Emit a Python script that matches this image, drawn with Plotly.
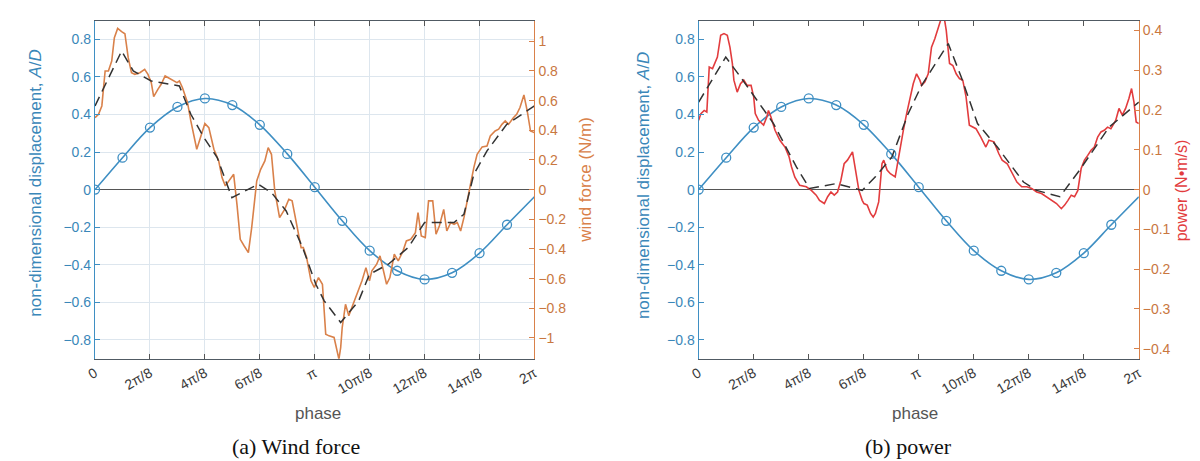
import numpy as np
import plotly.graph_objects as go

PI = np.pi

# ---------------- data ----------------
# phase values are given in units of pi
disp_phase = [0, 1/8, 2/8, 3/8, 4/8, 5/8, 6/8, 7/8, 1, 9/8, 10/8, 11/8, 12/8, 13/8, 14/8, 15/8]
disp_value = [0.0, 0.17, 0.33, 0.44, 0.485, 0.45, 0.345, 0.19, 0.013, -0.166, -0.325,
              -0.432, -0.478, -0.443, -0.338, -0.187]
disp_end_phase = 2.0
disp_end_value = -0.038

wind_phase = [0.000, 0.016, 0.031, 0.046, 0.061, 0.076, 0.088, 0.103, 0.121, 0.136, 0.151, 0.166,
              0.181, 0.204, 0.226, 0.241, 0.256, 0.267, 0.286, 0.301, 0.319, 0.339, 0.354, 0.373,
              0.384, 0.398, 0.421, 0.436, 0.463, 0.481, 0.500, 0.518, 0.541, 0.563, 0.578, 0.593,
              0.613, 0.631, 0.646, 0.661, 0.679, 0.698, 0.713, 0.736, 0.754, 0.773, 0.788, 0.803,
              0.818, 0.840, 0.863, 0.882, 0.897, 0.908, 0.923, 0.938, 0.948, 0.963, 0.983, 0.998,
              1.017, 1.035, 1.050, 1.065, 1.088, 1.103, 1.110, 1.118, 1.125, 1.140, 1.155, 1.169,
              1.193, 1.215, 1.233, 1.249, 1.260, 1.282, 1.297, 1.312, 1.327, 1.342, 1.362, 1.380,
              1.402, 1.417, 1.437, 1.458, 1.470, 1.485, 1.503, 1.518, 1.537, 1.552, 1.567, 1.587,
              1.601, 1.619, 1.634, 1.649, 1.664, 1.679, 1.694, 1.709, 1.724, 1.739, 1.762, 1.784,
              1.799, 1.821, 1.837, 1.852, 1.867, 1.882, 1.904, 1.919, 1.934, 1.952, 1.967, 1.982,
              1.999]
wind_force = [0.485, 0.508, 0.564, 0.800, 0.800, 0.867, 1.024, 1.087, 1.065, 1.051, 0.889, 0.788,
              0.777, 0.788, 0.811, 0.777, 0.721, 0.627, 0.676, 0.710, 0.766, 0.750, 0.737, 0.721,
              0.732, 0.687, 0.586, 0.463, 0.272, 0.350, 0.445, 0.418, 0.272, 0.193, 0.081, 0.025,
              0.070, 0.103, -0.099, -0.335, -0.380, -0.425, -0.256, 0.058, 0.137, 0.193, 0.283, 0.238,
              -0.009, -0.189, -0.133, -0.065, -0.076, -0.166, -0.279, -0.391, -0.391, -0.458, -0.615, -0.660,
              -0.593, -0.638, -0.975, -0.986, -0.997, -1.110, -1.143, -1.065, -0.930, -0.773, -0.851, -0.795,
              -0.705, -0.615, -0.526, -0.615, -0.548, -0.503, -0.447, -0.548, -0.638, -0.593, -0.436, -0.481,
              -0.413, -0.346, -0.335, -0.290, -0.155, -0.312, -0.323, -0.076, -0.076, -0.301, -0.245, -0.133,
              -0.279, -0.222, -0.234, -0.222, -0.279, -0.189, -0.088, 0.036, 0.148, 0.238, 0.288, 0.294,
              0.362, 0.395, 0.407, 0.440, 0.463, 0.440, 0.485, 0.508, 0.553, 0.638, 0.530, 0.395,
              0.384]

wind_avg_phase = [0.0, 0.121, 0.174, 0.256, 0.384, 0.436, 0.496, 0.556, 0.623, 0.743, 0.803, 0.870,
                  0.945, 1.005, 1.043, 1.118, 1.200, 1.249, 1.335, 1.425, 1.500, 1.634, 1.679, 1.724,
                  1.784, 1.874, 2.0]
wind_avg_force = [0.564, 0.934, 0.800, 0.732, 0.699, 0.508, 0.350, 0.216, -0.054, 0.036, -0.020, -0.144,
                  -0.391, -0.638, -0.750, -0.896, -0.750, -0.571, -0.503, -0.391, -0.222, -0.222, -0.166, 0.103,
                  0.261, 0.440, 0.564]

power_phase = [0.000, 0.010, 0.025, 0.037, 0.048, 0.063, 0.085, 0.100, 0.115, 0.130, 0.142, 0.153,
               0.160, 0.175, 0.190, 0.205, 0.220, 0.238, 0.250, 0.257, 0.272, 0.295, 0.310, 0.317,
               0.328, 0.347, 0.369, 0.392, 0.411, 0.422, 0.437, 0.459, 0.489, 0.512, 0.534, 0.549,
               0.571, 0.586, 0.601, 0.616, 0.631, 0.646, 0.661, 0.676, 0.699, 0.711, 0.728, 0.743,
               0.751, 0.766, 0.781, 0.793, 0.803, 0.818, 0.833, 0.841, 0.856, 0.871, 0.893, 0.901,
               0.915, 0.930, 0.945, 0.960, 0.975, 0.990, 1.005, 1.013, 1.028, 1.043, 1.058, 1.073,
               1.088, 1.102, 1.114, 1.125, 1.140, 1.155, 1.170, 1.185, 1.200, 1.215, 1.230, 1.245,
               1.260, 1.282, 1.305, 1.319, 1.342, 1.364, 1.379, 1.402, 1.424, 1.446, 1.468, 1.491,
               1.513, 1.536, 1.558, 1.581, 1.603, 1.626, 1.648, 1.663, 1.678, 1.693, 1.708, 1.723,
               1.738, 1.753, 1.768, 1.783, 1.798, 1.813, 1.828, 1.843, 1.858, 1.873, 1.895, 1.910,
               1.925, 1.940, 1.955, 1.967, 1.978, 1.988, 2.000]
power_value = [0.174, 0.191, 0.199, 0.195, 0.308, 0.304, 0.333, 0.388, 0.392, 0.388, 0.358, 0.317,
               0.275, 0.245, 0.266, 0.275, 0.262, 0.262, 0.233, 0.191, 0.174, 0.162, 0.183, 0.199,
               0.183, 0.149, 0.124, 0.107, 0.082, 0.057, 0.031, 0.011, 0.007, -0.002, -0.014, -0.027,
               -0.035, -0.018, -0.006, -0.014, -0.006, 0.023, 0.065, 0.074, 0.095, 0.057, -0.002, -0.027,
               -0.035, -0.039, -0.060, -0.069, -0.060, -0.031, 0.065, 0.074, 0.049, 0.040, 0.032, 0.057,
               0.107, 0.149, 0.191, 0.233, 0.266, 0.291, 0.275, 0.262, 0.271, 0.291, 0.358, 0.379,
               0.409, 0.430, 0.438, 0.400, 0.317, 0.312, 0.291, 0.279, 0.275, 0.233, 0.162, 0.157,
               0.153, 0.132, 0.107, 0.124, 0.120, 0.090, 0.074, 0.065, 0.040, 0.019, 0.007, 0.007,
               0.003, -0.006, -0.010, -0.018, -0.027, -0.035, -0.048, -0.039, -0.027, -0.014, -0.018, -0.002,
               0.053, 0.074, 0.086, 0.099, 0.107, 0.132, 0.145, 0.149, 0.157, 0.153, 0.174, 0.204,
               0.187, 0.204, 0.229, 0.254, 0.220, 0.170, 0.166]

power_avg_phase = [0.0, 0.123, 0.190, 0.340, 0.444, 0.504, 0.624, 0.743, 0.803, 0.878, 0.952, 1.013,
                   1.134, 1.193, 1.267, 1.357, 1.476, 1.536, 1.641, 1.731, 1.865, 2.0]
power_avg_value = [0.220, 0.333, 0.283, 0.166, 0.057, 0.003, 0.015, -0.002, 0.032, 0.082, 0.191, 0.262,
                   0.367, 0.283, 0.166, 0.107, 0.019, -0.002, -0.018, 0.049, 0.157, 0.220]

tick_phase = [0, 0.25, 0.5, 0.75, 1, 1.25, 1.5, 1.75, 2]
tick_text = ["0", "2π/8", "4π/8", "6π/8", "π", "10π/8", "12π/8", "14π/8", "2π"]

# ---------------- styling ----------------
W, H = 1200, 461
BLUE = "#3f8fc3"
BLUE_TXT = "#3a87b9"
ORANGE = "#d9814a"
ORANGE_TXT = "#c9773f"
RED = "#e23c3e"
DASH = "#333333"
GRID = "#dde6ee"
FONT = "Liberation Sans, Arial, sans-serif"
SERIF = "Liberation Serif, Times New Roman, serif"

def px_x(v):
    return v / W

def px_y(v):
    return 1 - v / H

ph = lambda arr: (np.array(arr) * PI).tolist()

fig = go.Figure()

def add_panel(xa, ya, ya2, force_ph, force_val, avg_ph, avg_val, color):
    fig.add_trace(go.Scatter(x=ph(disp_phase + [disp_end_phase]), y=disp_value + [disp_end_value],
                             mode="lines", line=dict(color=BLUE, width=1.6, shape="spline"),
                             xaxis=xa, yaxis=ya, showlegend=False, hoverinfo="skip"))
    fig.add_trace(go.Scatter(x=ph(disp_phase), y=disp_value, mode="markers",
                             marker=dict(symbol="circle-open", size=9, color=BLUE, line=dict(width=1.3)),
                             xaxis=xa, yaxis=ya, showlegend=False))
    fig.add_trace(go.Scatter(x=ph(force_ph), y=force_val, mode="lines",
                             line=dict(color=color, width=1.6),
                             xaxis=xa, yaxis=ya2, showlegend=False, cliponaxis=True))
    fig.add_trace(go.Scatter(x=ph(avg_ph), y=avg_val, mode="lines",
                             line=dict(color=DASH, width=1.5, dash="10px,6px"),
                             xaxis=xa, yaxis=ya2, showlegend=False))

add_panel("x", "y", "y2", wind_phase, wind_force, wind_avg_phase, wind_avg_force, ORANGE)
add_panel("x2", "y3", "y4", power_phase, power_value, power_avg_phase, power_avg_value, RED)

y_dom = [px_y(350.7), px_y(12.5)]
xdomA = [px_x(78), px_x(523)]
xdomB = [px_x(689.3), px_x(1135)]

xcommon = dict(range=[0, 2 * PI], tickmode="array", tickvals=ph(tick_phase), ticktext=tick_text,
               tickangle=-30, ticks="inside", ticklen=5, tickcolor="#555", showline=True,
               linecolor="#505a63", linewidth=1.3, mirror="ticks", zeroline=False,
               tickfont=dict(family=FONT, size=14, color="#3a3a3a"))

ycommon = dict(range=[-0.9, 0.9], tickmode="array", tickvals=[-0.8, -0.6, -0.4, -0.2, 0, 0.2, 0.4, 0.6, 0.8],
               ticktext=["−0.8", "−0.6", "−0.4", "−0.2", "0", "0.2", "0.4", "0.6", "0.8"],
               ticks="inside", ticklen=5, tickcolor=BLUE, showline=True, linecolor=BLUE, linewidth=1.3,
               zeroline=True, zerolinecolor="#555555", zerolinewidth=1.3,
               tickfont=dict(family=FONT, size=14, color=BLUE_TXT))

fig.update_layout(
    width=W, height=H, margin=dict(l=0, r=0, t=0, b=0),
    paper_bgcolor="white", plot_bgcolor="white",
    xaxis=dict(domain=xdomA, anchor="y", showgrid=True, gridcolor=GRID, gridwidth=1, **xcommon),
    xaxis2=dict(domain=xdomB, anchor="y3", showgrid=False, **xcommon),
    yaxis=dict(domain=y_dom, anchor="x", showgrid=True, gridcolor=GRID, gridwidth=1, **ycommon),
    yaxis2=dict(range=[-1.14, 1.14], overlaying="y", side="right", anchor="x", showgrid=False,
                tickmode="array", tickvals=[-1, -0.8, -0.6, -0.4, -0.2, 0, 0.2, 0.4, 0.6, 0.8, 1],
                ticktext=["−1", "−0.8", "−0.6", "−0.4", "−0.2", "0", "0.2", "0.4", "0.6", "0.8", "1"],
                ticks="inside", ticklen=5, tickcolor=ORANGE, showline=True, linecolor=ORANGE, linewidth=1.3,
                zeroline=False, tickfont=dict(family=FONT, size=14, color=ORANGE_TXT)),
    yaxis3=dict(domain=y_dom, anchor="x2", showgrid=False, **ycommon),
    yaxis4=dict(range=[-0.425, 0.425], overlaying="y3", side="right", anchor="x2", showgrid=False,
                tickmode="array", tickvals=[-0.4, -0.3, -0.2, -0.1, 0, 0.1, 0.2, 0.3, 0.4],
                ticktext=["−0.4", "−0.3", "−0.2", "−0.1", "0", "0.1", "0.2", "0.3", "0.4"],
                ticks="inside", ticklen=5, tickcolor=ORANGE, showline=True, linecolor=ORANGE, linewidth=1.3,
                zeroline=False, tickfont=dict(family=FONT, size=14, color=ORANGE_TXT)),
)

ann = []
def add_text(text, x, y, size, color, angle=0, family=FONT):
    ann.append(dict(text=text, x=px_x(x), y=px_y(y), xref="paper", yref="paper",
                    xanchor="center", yanchor="middle", showarrow=False, textangle=angle,
                    font=dict(family=family, size=size, color=color)))

add_text("non-dimensional displacement, <i>A</i>/<i>D</i>", 18, 175, 17, BLUE_TXT, -90)
add_text("wind force (N/m)", 574, 172, 17, ORANGE, -90)
add_text("phase", 304, 405, 17, "#555555")
add_text("(a) Wind force", 282, 438, 22, "#111111", family=SERIF)

add_text("non-dimensional displacement, <i>A</i>/<i>D</i>", 633, 178, 17, BLUE_TXT, -90)
add_text("power (N•m/s)", 1178, 182, 16, RED, -90)
add_text("phase", 908, 405, 17, "#555555")
add_text("(b) power", 902, 438, 22, "#111111", family=SERIF)

fig.update_layout(annotations=ann)

fig.write_html("out.html")
